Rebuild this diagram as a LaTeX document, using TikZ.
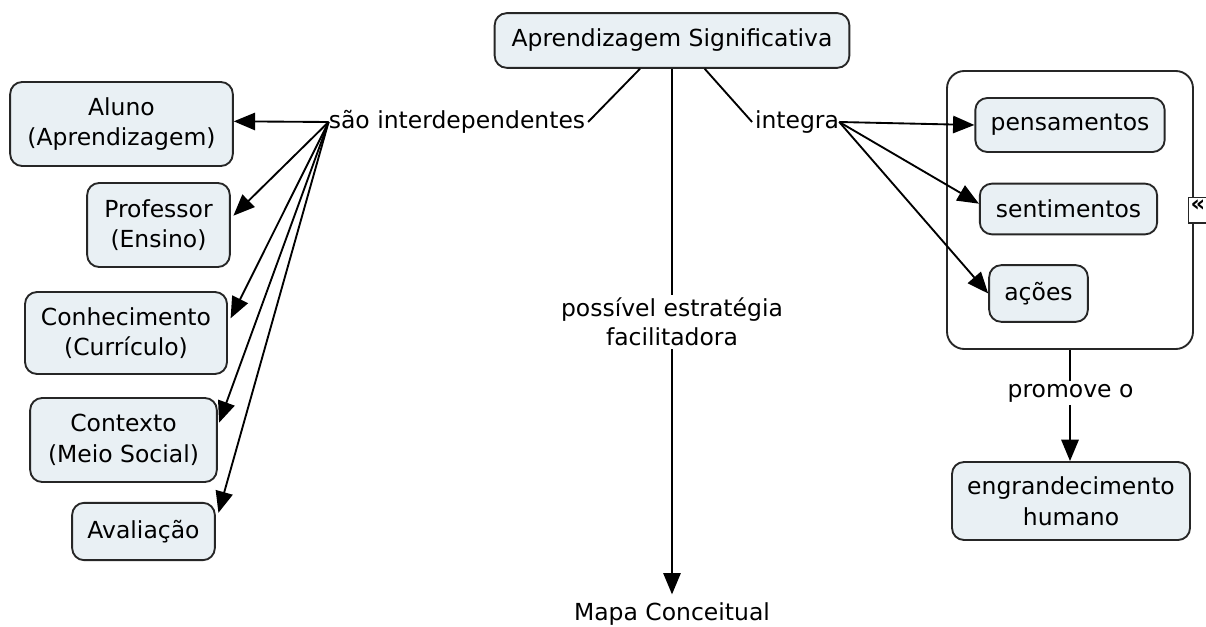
\documentclass[tikz,border=0pt]{standalone}
\usepackage{fontspec}
\setmainfont{DejaVu Sans}
\usetikzlibrary{arrows.meta}
\definecolor{cfill}{HTML}{E9F0F4}
\begin{document}
\begin{tikzpicture}[x=0.75pt,y=-0.75pt,
  concept/.style={draw=black!85, line width=1.4pt, fill=cfill, rounded corners=9pt, align=center,
    font=\fontsize{17.6}{23}\selectfont, inner sep=0pt},
  lbl/.style={align=center, font=\fontsize{17.6}{22}\selectfont, inner sep=2pt, fill=white},
  link/.style={line width=1.4pt},
  arr/.style={link, -{Triangle[length=16pt,width=13pt]}}]
\clip (0,0) rectangle (1206,627);
\fill[white] (0,0) rectangle (1206,627);

% central concept
\node[concept, minimum width=266pt, minimum height=41pt] (top) at (672,40.5) {Aprendizagem Significativa};

% linking phrases
\node[lbl] (sao) at (457,122) {são interdependentes};
\node[lbl] (integ) at (797,122) {integra};
\node[lbl] (poss) at (672,322) {possível estratégia\\facilitadora};
\node[lbl] (mapa) at (672,614) {Mapa Conceitual};
\node[lbl] (prom) at (1070.5,393) {promove o};

% left concepts
\node[concept, minimum width=167pt, minimum height=63pt] (aluno) at (121.5,124) {Aluno\\(Aprendizagem)};
\node[concept, minimum width=107pt, minimum height=63pt] (prof) at (158.5,225) {Professor\\(Ensino)};
\node[concept, minimum width=151.5pt, minimum height=61.5pt] (conh) at (126,333) {Conhecimento\\(Currículo)};
\node[concept, minimum width=140pt, minimum height=63pt] (cont) at (123.5,440) {Contexto\\(Meio Social)};
\node[concept, minimum width=107pt, minimum height=43pt] (aval) at (143.5,531.5) {Avaliação};

% right container
\node[draw=black!85, line width=1.4pt, fill=white, rounded corners=13pt, minimum width=184.5pt, minimum height=208.5pt, inner sep=0pt] (grp) at (1070,210) {};
\node[draw=black!85, line width=1pt, fill=white, minimum width=14pt, minimum height=19pt, inner sep=0pt,
  font=\fontsize{17}{17}\selectfont\bfseries, anchor=west] (icon) at (1188,210.5) {\raisebox{-1pt}[0pt][0pt]{«}};
\node[concept, minimum width=142pt, minimum height=40.5pt] (pens) at (1070,125) {pensamentos};
\node[concept, minimum width=133pt, minimum height=38pt] (sent) at (1068.5,209) {sentimentos};
\node[concept, minimum width=74pt, minimum height=42.5pt] (acoes) at (1038.5,293.5) {ações};
\node[concept, minimum width=178.5pt, minimum height=58.5pt] (engr) at (1071,501) {engrandecimento\\humano};

% connectors from central concept
\draw[link] ([xshift=-24pt]top.south) -- (sao.east);
\draw[link] ([xshift=24.5pt]top.south) -- (integ.west);
\draw[link] (top.south) -- (top.south |- poss.north);
\draw[arr] (top.south |- poss.south) -- ([yshift=4pt]mapa.north);

% são interdependentes -> left concepts
\coordinate (s0) at ([xshift=2pt]sao.west);
\draw[arr] (s0) -- ([yshift=2pt]aluno.east);
\draw[arr] (s0) -- ([xshift=2pt,yshift=7pt]prof.east);
\draw[arr] (s0) -- ([xshift=2pt,yshift=11pt]conh.east);
\draw[arr] (s0) -- ([xshift=1pt,yshift=13pt]cont.east);
\draw[arr] (s0) -- ([xshift=2pt,yshift=14pt]aval.east);

% integra -> right concepts
\coordinate (i0) at ([xshift=-2pt]integ.east);
\draw[arr] (i0) -- (pens.west);
\draw[arr] (i0) -- ([yshift=4pt]sent.west);
\draw[arr] (i0) -- (acoes.west);

% container -> engrandecimento
\draw[link] (grp.south) -- (grp.south |- prom.north);
\draw[arr] (grp.south |- prom.south) -- (grp.south |- engr.north);
\end{tikzpicture}
\end{document}
